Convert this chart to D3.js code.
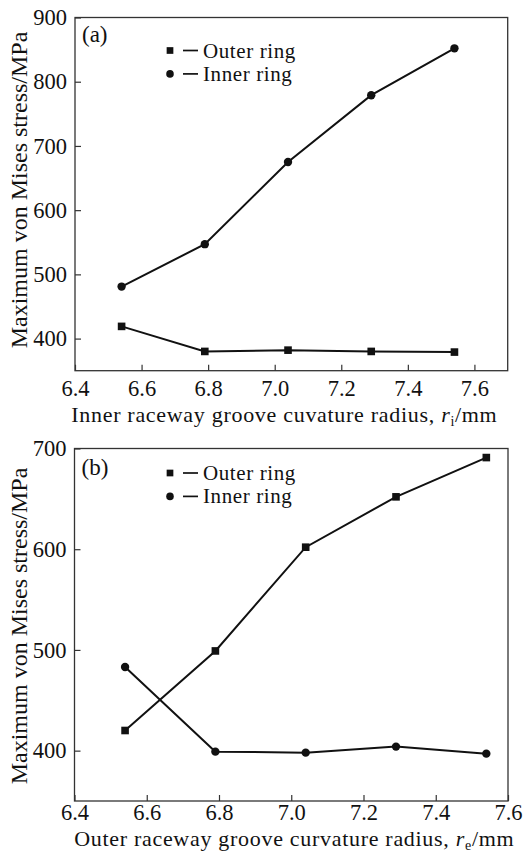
<!DOCTYPE html>
<html>
<head>
<meta charset="utf-8">
<script src="https://cdn.jsdelivr.net/npm/d3@7"></script>
<style>
  body { margin: 0; background: #fff; }
  svg { display: block; }
  text { font-family: "Liberation Serif", "DejaVu Serif", serif; fill: #111; }
</style>
</head>
<body>
<div class="chart"></div>
<script>
// groove curvature radius (mm), same for both panels
const radius = [6.54, 6.79, 7.04, 7.29, 7.54];

// (a) varying inner raceway groove radius
const aOuter = [419, 380, 382, 380, 379];
const aInner = [481, 547, 675, 779, 852];

// (b) varying outer raceway groove radius
const bOuter = [420, 499, 602, 652, 691];
const bInner = [483, 399, 398, 404, 397];

const xTicks = [6.4, 6.6, 6.8, 7.0, 7.2, 7.4, 7.6];
const aYTicks = [400, 500, 600, 700, 800, 900];
const bYTicks = [400, 500, 600, 700];

const W = 529, H = 859;
const ink = '#111';
const serif = '"Liberation Serif", "DejaVu Serif", serif';

const svg = d3.select('.chart').append('svg')
    .attr('width', W)
    .attr('height', H);

function drawPanel(cfg) {
    const x = d3.scaleLinear().domain(cfg.xDomain).range([cfg.left, cfg.right]);
    const y = d3.scaleLinear().domain(cfg.yDomain).range([cfg.bottom, cfg.top]);
    const g = svg.append('g');

    // frame
    g.append('rect')
        .attr('x', cfg.left).attr('y', cfg.top)
        .attr('width', cfg.right - cfg.left).attr('height', cfg.bottom - cfg.top)
        .attr('fill', 'none').attr('stroke', '#333').attr('stroke-width', 1.3);

    // axes with inward ticks
    const xAxis = d3.axisBottom(x).tickValues(xTicks).tickFormat(d3.format('.1f'))
        .tickSizeInner(-6).tickSizeOuter(0).tickPadding(cfg.xPad);
    const gx = g.append('g').attr('transform', `translate(0,${cfg.bottom})`).call(xAxis);
    const yAxis = d3.axisLeft(y).tickValues(cfg.yTicks).tickFormat(d3.format('d'))
        .tickSizeInner(-6).tickSizeOuter(0).tickPadding(8);
    const gy = g.append('g').attr('transform', `translate(${cfg.left},0)`).call(yAxis);
    [gx, gy].forEach(a => {
        a.attr('font-family', serif);
        a.select('.domain').remove();
        a.selectAll('line').attr('stroke', '#333').attr('stroke-width', 1.2);
        a.selectAll('text').style('font-family', serif)
            .style('font-size', '22.5px').attr('fill', ink);
    });

    // series
    const line = d3.line().x((d, i) => x(radius[i])).y(d => y(d));
    cfg.series.forEach(s => {
        g.append('path').datum(s.values)
            .attr('d', line)
            .attr('fill', 'none').attr('stroke', ink).attr('stroke-width', 2);
        const sym = d3.symbol().type(s.shape).size(s.shape === d3.symbolSquare ? 58 : 55);
        g.selectAll(null).data(s.values).enter().append('path')
            .attr('d', sym)
            .attr('transform', (d, i) => `translate(${x(radius[i])},${y(d)})`)
            .attr('fill', ink);
    });

    // panel tag
    g.append('text').attr('x', cfg.left + 7).attr('y', cfg.top + cfg.tagY)
        .style('font-size', '23px').text(cfg.tag);

    // legend
    const rowH = 23.4;
    cfg.series.forEach((s, i) => {
        const ly = cfg.top + cfg.legY + i * rowH;
        g.append('path')
            .attr('d', d3.symbol().type(s.shape).size(45))
            .attr('transform', `translate(170,${ly})`)
            .attr('fill', ink);
        g.append('line').attr('x1', 183).attr('x2', 198).attr('y1', ly).attr('y2', ly)
            .attr('stroke', ink).attr('stroke-width', 1.7);
        g.append('text').attr('x', 203).attr('y', ly + 7)
            .style('font-size', '21px').style('letter-spacing', '0.6px').text(s.name);
    });

    // y label
    g.append('text')
        .attr('transform', `translate(27,${cfg.ylY}) rotate(-90)`)
        .attr('text-anchor', 'middle')
        .style('font-size', '24px')
        .text('Maximum von Mises stress/MPa');

    // x label
    const xl = g.append('text')
        .attr('x', (cfg.left + cfg.right) / 2 + cfg.xlShift)
        .attr('y', cfg.xlY)
        .attr('text-anchor', 'middle')
        .style('font-size', '22px')
        .style('letter-spacing', '0.7px');
    xl.append('tspan').text(cfg.xlabel);
    xl.append('tspan').style('font-style', 'italic').text('r');
    xl.append('tspan').attr('dy', 4).style('font-size', '14px').text(cfg.sub);
    xl.append('tspan').attr('dy', -4).text('/mm');
}

drawPanel({
    tag: '(a)', tagY: 24, legY: 33, ylY: 190,
    left: 75, right: 507.7, top: 17.5, bottom: 370.7,
    xDomain: [6.4, 7.7], yDomain: [350, 900], yTicks: aYTicks,
    xPad: 9, xlY: 421.5, xlShift: -7,
    xlabel: 'Inner raceway groove cuvature radius, ', sub: 'i',
    series: [
        {name: 'Outer ring', shape: d3.symbolSquare, values: aOuter},
        {name: 'Inner ring', shape: d3.symbolCircle, values: aInner}
    ]
});

drawPanel({
    tag: '(b)', tagY: 26.5, legY: 24.5, ylY: 626,
    left: 74.5, right: 508, top: 448.5, bottom: 801,
    xDomain: [6.4, 7.6], yDomain: [350, 700], yTicks: bYTicks,
    xPad: 3, xlY: 846, xlShift: 3,
    xlabel: 'Outer raceway groove curvature radius, ', sub: 'e',
    series: [
        {name: 'Outer ring', shape: d3.symbolSquare, values: bOuter},
        {name: 'Inner ring', shape: d3.symbolCircle, values: bInner}
    ]
});
</script>
</body>
</html>
